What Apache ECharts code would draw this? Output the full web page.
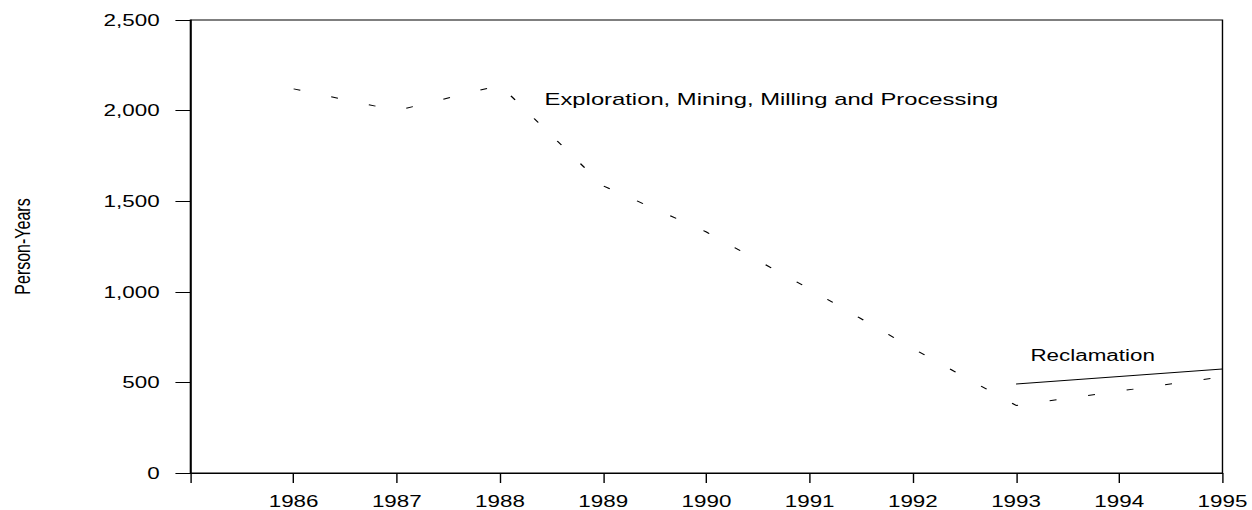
<!DOCTYPE html>
<html>
<head>
<meta charset="utf-8">
<script src="https://cdn.jsdelivr.net/npm/echarts@6/dist/echarts.min.js"></script>
<style>
  html, body { margin: 0; padding: 0; background: #fff; overflow: hidden; }
  /* the original figure is stretched horizontally, so draw narrow and stretch */
  #chart { width: 894px; height: 510px; transform: scaleX(1.4); transform-origin: 0 0; }
</style>
</head>
<body>
<div id="chart"></div>
<script>
const years = [1986, 1987, 1988, 1989, 1990, 1991, 1992, 1993, 1994, 1995];
const exploration = [2120, 2000, 2140, 1585, 1330, 1015, 687, 373, 452, 531];
const reclamation = [null, null, null, null, null, null, null, 491, 532, 574];
const yTicks = [0, 500, 1000, 1500, 2000, 2500];

const font = "Liberation Sans";
const chart = echarts.init(document.getElementById("chart"), null, { renderer: "svg" });

const pairs = (vals) => years.map((y, i) => [y, vals[i]]);

chart.setOption({
  animation: false,
  grid: {
    left: 133.6,
    right: 20,
    top: 20,
    bottom: 37,
    show: true,
    borderColor: "#000",
    borderWidth: 1,
  },
  xAxis: {
    type: "value",
    min: 1985,
    max: 1995,
    interval: 1,
    splitLine: { show: false },
    axisLine: { lineStyle: { color: "#000", width: 1 } },
    axisTick: { show: true, length: 10, lineStyle: { color: "#000" } },
    axisLabel: {
      margin: 20,
      color: "#000",
      fontFamily: font,
      fontSize: 16,
      formatter: (v) => (v === 1985 ? "" : String(v)),
    },
  },
  yAxis: {
    type: "value",
    min: yTicks[0],
    max: yTicks[yTicks.length - 1],
    interval: 500,
    name: "Person-Years",
    nameLocation: "middle",
    nameRotate: 90,
    nameGap: 112,
    nameTextStyle: { color: "#000", fontFamily: font, fontSize: 16 },
    splitLine: { show: false },
    axisLine: { show: true, lineStyle: { color: "#000", width: 1 } },
    axisTick: { show: true, length: 10.7, lineStyle: { color: "#000" } },
    axisLabel: {
      margin: 22,
      color: "#000",
      fontFamily: font,
      fontSize: 16,
      formatter: (v) => v.toLocaleString("en-US"),
    },
  },
  series: [
    {
      name: "Exploration, Mining, Milling and Processing",
      type: "line",
      data: pairs(exploration),
      symbol: "none",
      lineStyle: { color: "#000", width: 1, type: [5, 23] },
    },
    {
      name: "Reclamation",
      type: "line",
      data: pairs(reclamation),
      symbol: "none",
      connectNulls: false,
      lineStyle: { color: "#000", width: 1, type: "solid" },
    },
  ],
  graphic: [
    {
      type: "text",
      x: 389,
      y: 99,
      style: {
        text: "Exploration, Mining, Milling and Processing",
        fill: "#000",
        font: "17px " + font,
        textVerticalAlign: "middle",
      },
    },
    {
      type: "text",
      x: 736,
      y: 355,
      style: {
        text: "Reclamation",
        fill: "#000",
        font: "16px " + font,
        textVerticalAlign: "middle",
      },
    },
  ],
});
</script>
</body>
</html>
